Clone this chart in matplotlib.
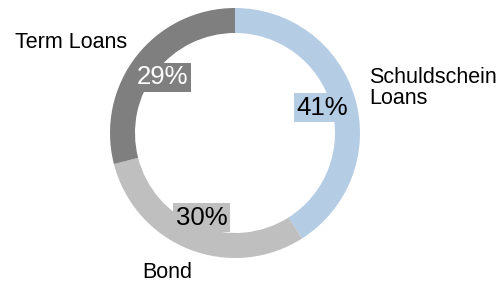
import matplotlib.pyplot as plt

# Daten
kategorien = ["Schuldschein\nLoans", "Bond", "Term Loans"]
anteile = [41, 30, 29]
farben = ["#b4cce4", "#bfbfbf", "#7f7f7f"]
textfarben = ["black", "black", "white"]

plt.rcParams['font.family'] = ['Liberation Sans', 'DejaVu Sans']

W, H = 496, 282
fig = plt.figure(figsize=(W / 100, H / 100), dpi=100)
ax = fig.add_axes([0, 0, 1, 1])

R = 125
cx, cy = 235, H - 133

wedges, _, autotexts = ax.pie(
    anteile, colors=farben, startangle=90, counterclock=False,
    radius=R, center=(cx, cy), frame=True,
    autopct=lambda p: f"{p:.0f}%", pctdistance=0.73,
    wedgeprops=dict(width=25, edgecolor="none"))
ax.set_xlim(0, W)
ax.set_ylim(0, H)
ax.axis("off")

for t, f, tf in zip(autotexts, farben, textfarben):
    t.set_fontsize(18.5)
    t.set_color(tf)
    t.set_bbox(dict(boxstyle="square,pad=0.1", facecolor=f, edgecolor="none"))

# Kategorie-Beschriftungen (Pixelpositionen)
ax.text(369, H - 88, kategorien[0], fontsize=15.5, ha="left", va="center",
        linespacing=1.05)
ax.text(167, H - 272, kategorien[1], fontsize=15.5, ha="center", va="center")
ax.text(127, H - 43, kategorien[2], fontsize=15.5, ha="right", va="center")

fig.savefig("out.png", dpi=100)
